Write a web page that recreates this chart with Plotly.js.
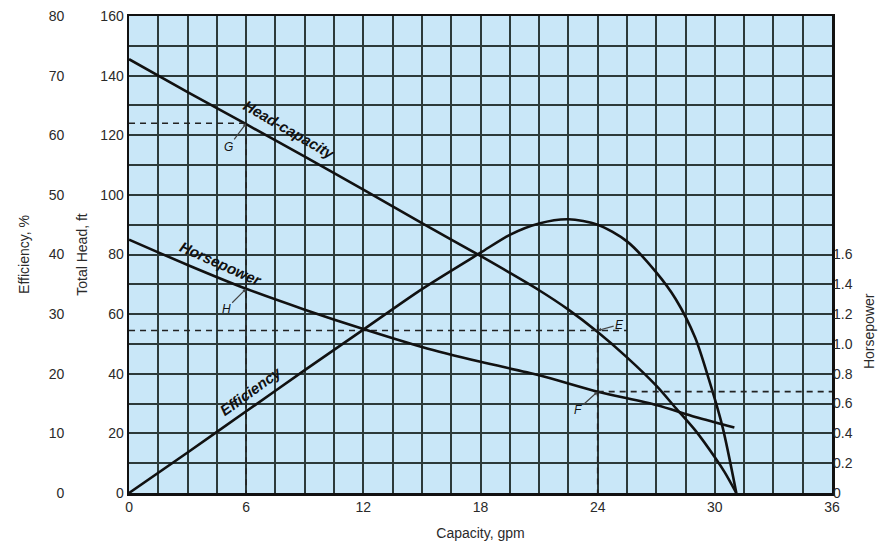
<!DOCTYPE html>
<html>
<head>
<meta charset="utf-8">
<script src="https://cdn.plot.ly/plotly-3.0.1.min.js"></script>
<style>html,body{margin:0;padding:0;background:#fff}#chart{width:891px;height:547px}</style>
</head>
<body>
<div id="chart"></div>
<script>
// Capacity (gpm) and curves
const headCap   = [0, 3, 6, 9, 12, 15, 18, 21, 22.5, 24, 25.5, 27, 28, 29, 30, 30.5, 31.1];
const headFt    = [145.5, 134.5, 123.7, 112.8, 101.8, 90.5, 79.5, 68, 61.5, 54, 45.5, 36, 28.5, 21, 12, 7, 0];

const effCap    = [0, 3, 6, 9, 12, 15, 18, 19.5, 21, 22.5, 24, 25.5, 27, 28, 29, 29.7, 30.4, 31.1];
const effPct    = [0, 6.8, 13.7, 20.6, 27.4, 34.2, 40.3, 43.3, 45.2, 45.9, 45, 42.2, 37, 32.5, 26, 19, 11, 0];

const hpCap     = [0, 3, 6, 9, 12, 15, 18, 21, 24, 27, 29, 31];
const hpVal     = [1.70, 1.53, 1.37, 1.23, 1.10, 0.98, 0.88, 0.79, 0.68, 0.59, 0.51, 0.44];

// Reference points G, E, F
const pointG = {cap: 6, head: 124};
const pointE = {cap: 24, head: 54.5, lineEnd: 25.5};
const pointF = {cap: 24, hp: 0.68, lineEnd: 36};

// Tick labels
const xTicks   = [0, 6, 12, 18, 24, 30, 36];
const headTicks = [0, 20, 40, 60, 80, 100, 120, 140, 160];
const effTicks = [0, 10, 20, 30, 40, 50, 60, 70, 80];
const hpTicks  = [0, 0.2, 0.4, 0.6, 0.8, 1.0, 1.2, 1.4, 1.6];
const hpTickText = ['0', '0.2', '0.4', '0.6', '0.8', '1.0', '1.2', '1.4', '1.6'];

const black = '#111';
const font = 'Liberation Sans, Arial, sans-serif';
const solid = {color: black, width: 2.6, shape: 'spline', smoothing: 0.8};
const dashed = {color: '#222', width: 1.6, dash: '6px,5px'};

const traces = [
  {x: headCap, y: headFt, mode: 'lines', line: solid, yaxis: 'y', name: 'Head-capacity'},
  {x: effCap, y: effPct, mode: 'lines', line: solid, yaxis: 'y2', name: 'Efficiency'},
  {x: hpCap, y: hpVal, mode: 'lines', line: solid, yaxis: 'y3', name: 'Horsepower'},
  {x: [0, pointG.cap, pointG.cap], y: [pointG.head, pointG.head, 0], mode: 'lines', line: dashed, yaxis: 'y'},
  {x: [0, pointE.lineEnd], y: [pointE.head, pointE.head], mode: 'lines', line: dashed, yaxis: 'y'},
  {x: [pointE.cap, pointE.cap], y: [pointE.head + 2, 0], mode: 'lines', line: dashed, yaxis: 'y'},
  {x: [pointF.cap, pointF.lineEnd], y: [pointF.hp, pointF.hp], mode: 'lines', line: dashed, yaxis: 'y3'}
];

const grid = '#2c3a3a';
const tickFont = {family: font, size: 14, color: '#2a2a2a'};
const titleFont = {family: font, size: 14, color: '#2a2a2a'};
const labelFont = {family: font, size: 15, color: black, style: 'italic', weight: 'bold'};
const letterFont = {family: font, size: 12, color: black, style: 'italic'};

const layout = {
  width: 891, height: 547,
  margin: {l: 10, r: 59, t: 16, b: 54},
  paper_bgcolor: '#ffffff',
  plot_bgcolor: '#c9e7f8',
  showlegend: false,
  xaxis: {
    domain: [0.1448, 1],
    range: [0, 36], tickvals: xTicks, ticks: '', tickfont: tickFont,
    showgrid: true, gridcolor: grid, gridwidth: 2,
    minor: {dtick: 1.5, showgrid: true, gridcolor: grid, gridwidth: 2},
    showline: true, mirror: true, linecolor: black, linewidth: 2.5,
    zeroline: false,
    title: {text: 'Capacity, gpm', font: titleFont, standoff: 14}
  },
  yaxis: {
    range: [0, 160], tickvals: headTicks, ticks: '', tickfont: tickFont,
    showgrid: true, gridcolor: grid, gridwidth: 2,
    minor: {dtick: 10, showgrid: true, gridcolor: grid, gridwidth: 2},
    showline: true, mirror: true, linecolor: black, linewidth: 2.5,
    zeroline: false,
    title: {text: 'Total Head, ft', font: titleFont, standoff: 10}
  },
  yaxis2: {
    range: [0, 80], tickvals: effTicks, ticks: '', tickfont: tickFont,
    overlaying: 'y', anchor: 'free', position: 0.066, side: 'left',
    showgrid: false, zeroline: false, showline: false,
    title: {text: 'Efficiency, %', font: titleFont, standoff: 14}
  },
  yaxis3: {
    range: [0, 3.2], tickvals: hpTicks, ticktext: hpTickText, ticks: '', tickfont: tickFont,
    overlaying: 'y', anchor: 'x', side: 'right',
    showgrid: false, zeroline: false, showline: false
  },
  annotations: [
    {text: 'Head-capacity', x: 8.2, y: 122, xref: 'x', yref: 'y', showarrow: false, textangle: 30, font: labelFont},
    {text: 'Horsepower', x: 4.7, y: 77, xref: 'x', yref: 'y', showarrow: false, textangle: 24, font: labelFont},
    {text: 'Efficiency', x: 6.2, y: 34, xref: 'x', yref: 'y', showarrow: false, textangle: -36, font: labelFont},
    {text: 'G', x: pointG.cap, y: pointG.head, xref: 'x', yref: 'y', showarrow: true, arrowhead: 2, arrowsize: 0.6,
     arrowwidth: 1.2, ax: -18, ay: 24, font: letterFont},
    {text: 'H', x: 6, y: 68.5, xref: 'x', yref: 'y', showarrow: true, arrowhead: 2, arrowsize: 0.6,
     arrowwidth: 1.2, ax: -20, ay: 20, font: letterFont},
    {text: 'E', x: pointE.cap, y: pointE.head, xref: 'x', yref: 'y', showarrow: true, arrowhead: 2, arrowsize: 0.6,
     arrowwidth: 1.2, ax: 22, ay: -6, font: letterFont},
    {text: 'F', x: pointF.cap, y: pointF.hp, xref: 'x', yref: 'y3', showarrow: true, arrowhead: 2, arrowsize: 0.6,
     arrowwidth: 1.2, ax: -20, ay: 18, font: letterFont},
    {text: 'Horsepower', xref: 'paper', yref: 'paper', x: 1.058, y: 0.255, showarrow: false, textangle: -90,
     font: titleFont}
  ]
};

Plotly.newPlot('chart', traces, layout, {displayModeBar: false, staticPlot: true});
</script>
</body>
</html>
